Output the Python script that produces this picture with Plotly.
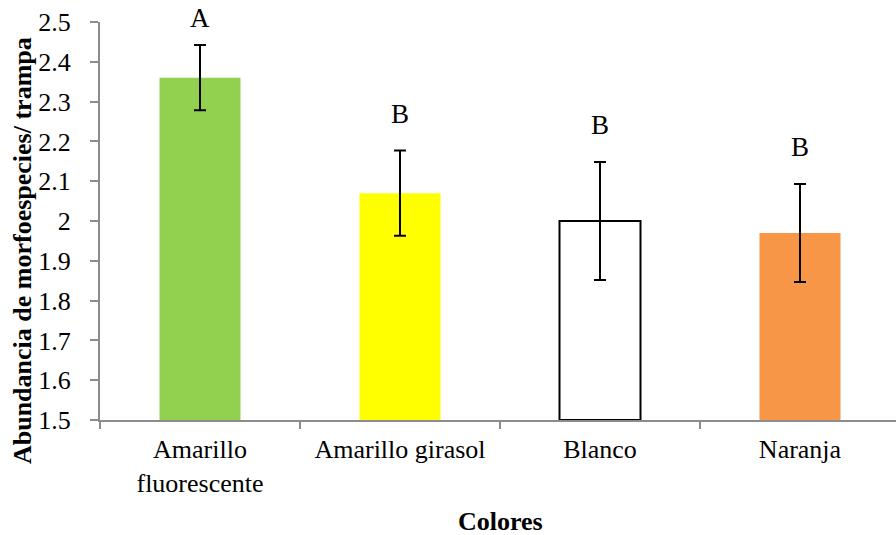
import plotly.graph_objects as go

categories = ["Amarillo<br>fluorescente", "Amarillo girasol", "Blanco", "Naranja"]
values = [2.36, 2.07, 2.0, 1.97]
errors = [0.082, 0.107, 0.148, 0.123]
letters = ["A", "B", "B", "B"]
colors = ["#92D050", "#FFFF00", "#FFFFFF", "#F79646"]
line_colors = ["rgba(0,0,0,0)", "rgba(0,0,0,0)", "#000000", "rgba(0,0,0,0)"]
line_widths = [0, 0, 2, 0]

FONT = "Liberation Serif, Times New Roman, serif"
Y0, Y1 = 1.5, 2.5

fig = go.Figure()
fig.add_trace(go.Bar(
    x=categories,
    y=[v - Y0 for v in values],
    base=Y0,
    marker=dict(color=colors, line=dict(color=line_colors, width=line_widths)),
    error_y=dict(type="data", array=errors, color="black", thickness=2, width=6),
    width=0.405,
    hoverinfo="skip",
))

for c, v, e, t in zip(categories, values, errors, letters):
    yl = min(v + e + 0.092, 2.51)
    fig.add_annotation(
        x=c, xref="x", y=(yl - Y0) / (Y1 - Y0), yref="paper", text=t, showarrow=False,
        font=dict(family=FONT, size=27, color="black"),
        yanchor="middle", xanchor="center",
    )

# axis titles
fig.add_annotation(
    text="<b>Abundancia de morfoespecies/ trampa</b>", textangle=-90,
    xref="paper", yref="paper", x=-0.098, y=0.427, xanchor="center", yanchor="middle",
    showarrow=False, font=dict(family=FONT, size=26, color="black"),
)
fig.add_annotation(
    text="<b>Colores</b>",
    xref="paper", yref="paper", x=0.503, y=-0.254, xanchor="center", yanchor="middle",
    showarrow=False, font=dict(family=FONT, size=26, color="black"),
)

fig.update_layout(
    width=896, height=535,
    margin=dict(l=100, r=0, t=22, b=115),
    paper_bgcolor="white", plot_bgcolor="white",
    showlegend=False,
    font=dict(family=FONT, size=26, color="black"),
    xaxis=dict(
        type="category",
        range=[-0.5, 3.48],
        tickson="boundaries",
        showline=True, linecolor="#8c8c8c", linewidth=2,
        ticks="outside", ticklen=7, tickcolor="#8c8c8c", tickwidth=2,
        ticklabelstandoff=5,
        showgrid=False, zeroline=False,
        tickfont=dict(family=FONT, size=26, color="black"),
    ),
    yaxis=dict(
        range=[Y0, Y1],
        dtick=0.1, tick0=1.5,
        showline=True, linecolor="#8c8c8c", linewidth=2,
        ticks="outside", ticklen=8, tickcolor="#8c8c8c", tickwidth=2,
        ticklabelstandoff=14,
        showgrid=False, zeroline=False,
        tickfont=dict(family=FONT, size=26, color="black"),
    ),
)

fig.write_html("out.html")
